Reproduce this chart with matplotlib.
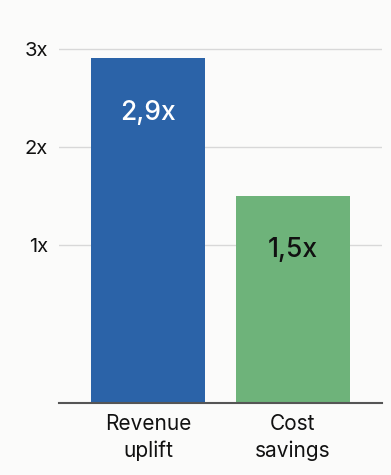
import matplotlib
matplotlib.use("Agg")
import matplotlib.pyplot as plt

categories = ["Revenue\nuplift", "Cost\nsavings"]
values = [2.9, 1.5]
value_labels = ["2,9x", "1,5x"]
bar_colors = ["#2b63a8", "#6eb37a"]
label_colors = ["white", "#111111"]
yticks = [1, 2, 3]
ytick_labels = ["1x", "2x", "3x"]

plt.rcParams['font.family'] = ['Inter', 'DejaVu Sans']
bg = "#fbfbfa"
fig = plt.figure(figsize=(3.91, 4.75), dpi=100, facecolor=bg)
ax = fig.add_axes([59/391, 1-403/475, (382-59)/391, (403-30)/475])
ax.set_facecolor(bg)

ymin = -0.612
ax.set_ylim(ymin, 3.19)
ax.set_xlim(-0.62, 1.62)
x = list(range(len(categories)))
ax.bar(x, [v - ymin for v in values], bottom=ymin, width=0.79, color=bar_colors, zorder=2)
for xi, v, lab, c in zip(x, values, value_labels, label_colors):
    ax.annotate(lab, (xi, v), xytext=(0, -39), textcoords="offset points",
                ha="center", va="center", fontsize=19, fontweight="medium", color=c, zorder=3)

ax.set_yticks(yticks)
ax.set_yticklabels(ytick_labels, fontsize=14.5, color="#111111")
ax.set_xticks(x)
ax.set_xticklabels(categories, fontsize=15, color="#111111", linespacing=1.4)
ax.tick_params(axis="y", length=0, pad=8)
ax.tick_params(axis="x", length=0, pad=8)
ax.grid(axis="y", color="#d8d8d8", linewidth=1, zorder=0)
for s in ["top", "right", "left"]:
    ax.spines[s].set_visible(False)
ax.spines["bottom"].set_color("#555555")
ax.spines["bottom"].set_linewidth(1.5)
ax.spines["bottom"].set_zorder(3)

fig.savefig("out.png", dpi=100, facecolor=bg)
